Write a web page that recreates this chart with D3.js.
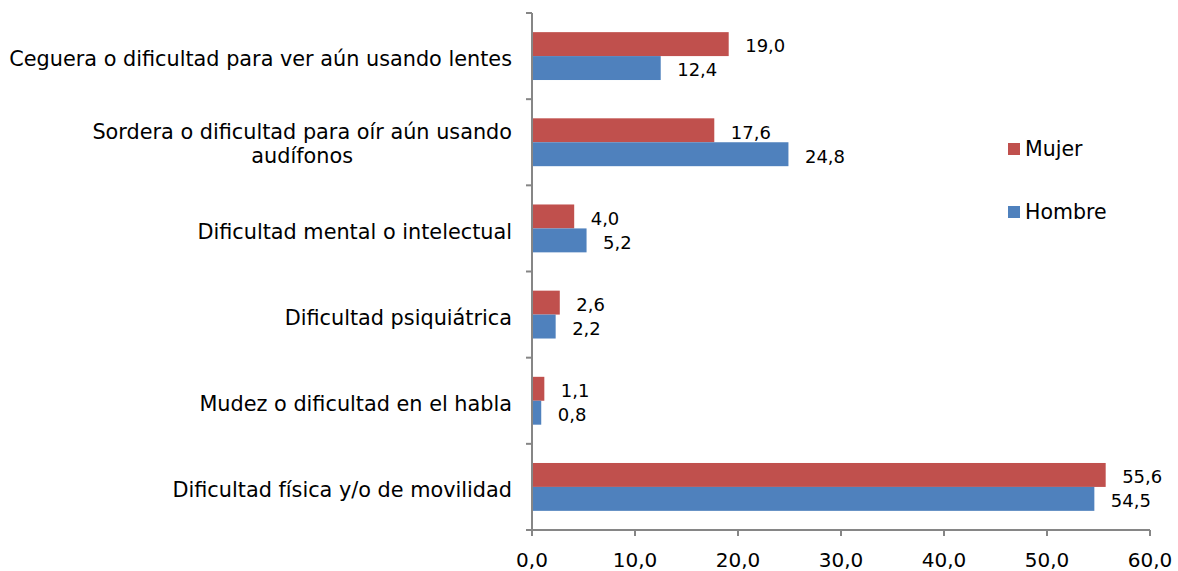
<!DOCTYPE html>
<html>
<head>
<meta charset="utf-8">
<script src="https://cdn.jsdelivr.net/npm/d3@7"></script>
<style>
  body { margin: 0; background: #fff; }
  svg text { font-family: "DejaVu Sans", Verdana, sans-serif; fill: #000; }
</style>
</head>
<body>
<div id="chart"></div>
<script>
// chart data
var categories = [
  "Ceguera o dificultad para ver aún usando lentes",
  "Sordera o dificultad para oír aún usando|audífonos",
  "Dificultad mental o intelectual",
  "Dificultad psiquiátrica",
  "Mudez o dificultad en el habla",
  "Dificultad física y/o de movilidad"
];
var seriesNames = ["Mujer", "Hombre"];
var mujer = [19.0, 17.6, 4.0, 2.6, 1.1, 55.6];
var hombre = [12.4, 24.8, 5.2, 2.2, 0.8, 54.5];
var xTicks = [0, 10, 20, 30, 40, 50, 60];
var colors = ["#C0504D", "#4F81BD"];

var width = 1178, height = 571;
var margin = { top: 13, right: 28, bottom: 41, left: 532 };

var svg = d3.select("#chart").append("svg")
  .attr("width", width)
  .attr("height", height);

var g = svg.append("g")
  .attr("transform", "translate(" + margin.left + "," + margin.top + ")");

var w = width - margin.left - margin.right,
  h = height - margin.top - margin.bottom;

var x = d3.scaleLinear().domain([0, 60]).range([0, w]);
var y = d3.scaleBand().domain(d3.range(categories.length)).range([0, h]);
var ySub = d3.scaleBand().domain([0, 1]).range([0, y.bandwidth()]).paddingOuter(0.8);

var fmt = function (v) { return d3.format(".1f")(v).replace(".", ","); };

// bars
var groups = g.selectAll("g.cat")
  .data(categories.map(function (c, i) { return [mujer[i], hombre[i]]; }))
  .enter().append("g")
  .attr("class", "cat")
  .attr("transform", function (d, i) { return "translate(0," + y(i) + ")"; });

groups.selectAll("rect")
  .data(function (d) { return d; })
  .enter().append("rect")
  .attr("x", x(0) + 1)
  .attr("y", function (d, j) { return ySub(j); })
  .attr("width", function (d) { return x(d) - x(0); })
  .attr("height", ySub.bandwidth())
  .attr("fill", function (d, j) { return colors[j]; });

groups.selectAll("text.val")
  .data(function (d) { return d; })
  .enter().append("text")
  .attr("class", "val")
  .attr("x", function (d) { return x(d) + 17.5; })
  .attr("y", function (d, j) { return ySub(j) + ySub.bandwidth() / 2 + 2; })
  .attr("dy", "0.35em")
  .style("font-size", "18px")
  .text(fmt);

// y axis
var yAxis = g.append("g").attr("class", "y-axis");
yAxis.append("line")
  .attr("x1", 0).attr("x2", 0).attr("y1", 0).attr("y2", h)
  .attr("stroke", "#868686").attr("stroke-width", 2);
yAxis.selectAll("line.tick")
  .data(d3.range(categories.length + 1))
  .enter().append("line")
  .attr("class", "tick")
  .attr("x1", -6).attr("x2", 0)
  .attr("y1", function (i) { return i * y.step(); })
  .attr("y2", function (i) { return i * y.step(); })
  .attr("stroke", "#868686").attr("stroke-width", 2);

categories.forEach(function (c, i) {
  var lines = c.split("|");
  var cy = y(i) + y.bandwidth() / 2;
  if (lines.length === 1) {
    g.append("text")
      .attr("x", -20).attr("y", cy + 3).attr("dy", "0.35em")
      .attr("text-anchor", "end")
      .style("font-size", "20.8px")
      .text(c);
  } else {
    var t = g.append("text")
      .attr("text-anchor", "middle")
      .style("font-size", "20.8px");
    t.append("tspan").attr("y", cy - 11).attr("dy", "0.35em").text(lines[0]);
    var first = t.select("tspan").node().getComputedTextLength();
    t.attr("transform", "translate(" + (-20 - first / 2) + ",0)");
    t.selectAll("tspan").attr("x", 0);
    t.append("tspan").attr("x", 0).attr("y", cy + 13).attr("dy", "0.35em").text(lines[1]);
  }
});

// x axis
var xAxis = g.append("g").attr("transform", "translate(0," + h + ")");
xAxis.append("line")
  .attr("x1", 0).attr("x2", w)
  .attr("stroke", "#868686").attr("stroke-width", 2);
xAxis.selectAll("line.tick")
  .data(xTicks).enter().append("line")
  .attr("x1", x).attr("x2", x)
  .attr("y1", 0).attr("y2", 6)
  .attr("stroke", "#868686").attr("stroke-width", 2);
xAxis.selectAll("text")
  .data(xTicks).enter().append("text")
  .attr("x", x).attr("y", 30).attr("dy", "0.35em")
  .attr("text-anchor", "middle")
  .style("font-size", "20px")
  .text(fmt);

// legend
var legend = svg.append("g").attr("transform", "translate(1008,143)");
seriesNames.forEach(function (s, i) {
  var lg = legend.append("g").attr("transform", "translate(0," + (i * 63) + ")");
  lg.append("rect").attr("width", 12).attr("height", 12).attr("fill", colors[i]);
  lg.append("text").attr("x", 17).attr("y", 6).attr("dy", "0.35em")
    .style("font-size", "20.5px").text(s);
});
</script>
</body>
</html>
